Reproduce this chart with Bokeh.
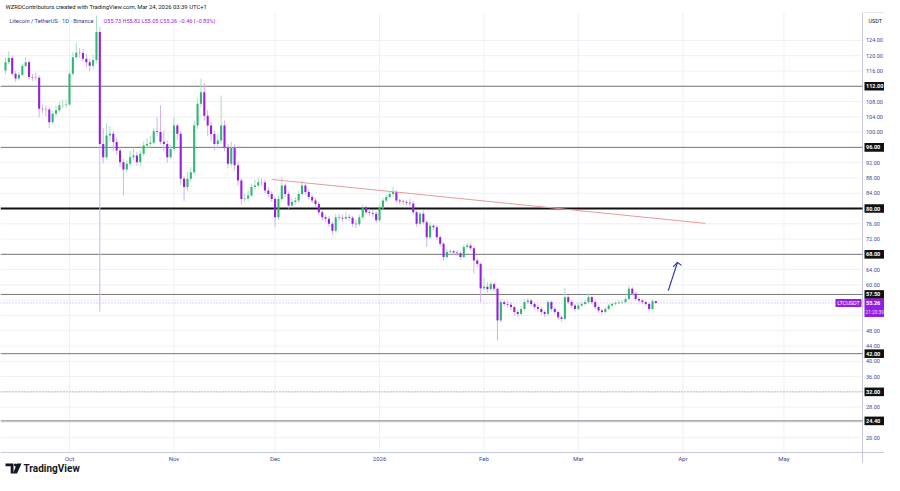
import numpy as np
import pandas as pd
from bokeh.plotting import figure
from bokeh.models import ColumnDataSource, Range1d, Label
from bokeh.embed import file_html
from bokeh.resources import INLINE
from bokeh.core.properties import value

# ---------------- data ----------------
start_date = "2025-09-12"
first_open = 116.1
closes = [
    118.3, 119.4, 115.3, 114.0, 115.0, 117.3, 118.3, 114.4, 114.3, 114.2,
    106.1, 106.0, 105.9, 102.6, 104.8, 105.7, 107.0, 107.1, 107.2, 115.3,
    119.6, 120.8, 120.7, 119.2, 118.3, 117.4, 118.9, 126.2, 96.9, 93.4,
    99.1, 99.6, 97.4, 95.2, 92.1, 90.2, 91.7, 93.4, 93.9, 92.1,
    94.3, 96.5, 96.9, 97.2, 100.2, 100.0, 97.5, 96.9, 93.4, 95.6,
    101.7, 99.6, 87.8, 85.6, 87.8, 89.5, 101.7, 107.4, 110.4, 104.3,
    101.7, 99.5, 96.9, 97.8, 101.7, 96.0, 91.7, 95.9, 91.3, 87.3,
    82.5, 82.6, 83.4, 85.6, 86.0, 86.9, 86.8, 84.7, 83.8, 82.5,
    77.7, 82.5, 86.0, 83.8, 80.8, 81.7, 82.1, 83.8, 86.0, 84.3,
    83.0, 82.1, 81.2, 79.0, 77.7, 77.3, 76.0, 74.2, 77.7, 77.6,
    77.4, 77.8, 77.6, 76.0, 75.9, 77.7, 80.3, 79.0, 78.8, 78.6,
    76.9, 80.3, 82.1, 83.0, 83.8, 84.3, 82.1, 81.8, 81.7, 81.5,
    81.3, 79.0, 76.0, 78.6, 76.4, 72.5, 75.5, 75.1, 72.5, 70.8,
    67.3, 68.6, 68.8, 68.5, 68.3, 67.3, 69.9, 70.3, 69.6, 66.4,
    65.5, 59.1, 59.5, 58.9, 60.2, 59.0, 50.7, 55.5, 55.0, 54.8,
    54.2, 52.9, 52.4, 53.7, 55.5, 55.9, 55.0, 54.2, 53.7, 52.9,
    52.4, 55.5, 53.7, 52.9, 51.5, 51.1, 56.8, 55.5, 54.6, 53.7,
    54.6, 55.0, 55.5, 56.8, 55.5, 54.2, 53.3, 52.9, 53.7, 54.6,
    55.0, 55.2, 55.4, 55.5, 56.3, 59.0, 57.7, 56.3, 55.9, 55.5,
    55.0, 53.7, 55.73, 55.26]
highs = [
    119.5, 121.2, 120.0, 116.0, 115.8, 118.0, 119.6, 119.0, 115.2, 115.6,
    114.8, 107.2, 107.0, 106.5, 105.6, 106.9, 108.0, 108.5, 108.6, 116.0,
    121.0, 123.5, 122.0, 121.8, 120.4, 119.2, 120.2, 130.5, 127.5, 101.0,
    102.3, 101.5, 100.4, 98.6, 96.3, 93.0, 92.6, 95.0, 96.0, 94.8,
    95.2, 97.5, 98.5, 99.0, 101.0, 104.0, 107.0, 100.4, 97.8, 96.7,
    103.8, 102.2, 100.2, 88.6, 89.5, 90.8, 103.0, 108.8, 114.0, 112.8,
    105.8, 102.8, 100.4, 99.5, 109.6, 103.0, 97.0, 97.5, 96.8, 92.5,
    88.0, 83.8, 84.6, 86.5, 87.6, 88.0, 87.9, 87.5, 85.5, 84.5,
    83.0, 83.4, 88.2, 86.6, 84.5, 82.5, 83.0, 84.6, 87.2, 86.6,
    85.0, 83.7, 82.8, 81.8, 79.6, 78.4, 78.0, 76.6, 78.6, 78.7,
    78.5, 79.2, 78.6, 78.0, 77.0, 78.4, 81.0, 80.8, 79.8, 79.6,
    79.2, 81.0, 82.8, 83.6, 84.6, 85.6, 84.8, 82.6, 82.4, 82.2,
    82.6, 81.8, 79.5, 79.2, 79.5, 76.9, 76.4, 76.0, 75.6, 73.0,
    71.2, 69.4, 69.3, 69.2, 69.0, 68.8, 70.5, 71.0, 70.8, 70.0,
    66.9, 65.8, 61.8, 60.6, 60.8, 60.6, 59.4, 56.3, 56.0, 55.8,
    55.5, 54.6, 53.4, 54.4, 56.2, 56.6, 56.4, 55.4, 54.8, 54.2,
    53.3, 56.0, 55.9, 54.2, 53.3, 52.0, 59.3, 57.3, 56.0, 55.0,
    55.2, 55.6, 56.1, 57.8, 57.2, 55.9, 54.6, 53.7, 54.2, 55.0,
    55.5, 55.7, 55.9, 56.0, 56.9, 59.8, 59.4, 58.2, 56.8, 56.4,
    55.9, 55.4, 56.2, 55.82]
lows = [
    115.2, 117.8, 114.8, 113.2, 113.5, 114.6, 116.9, 113.8, 113.4, 113.5,
    103.8, 104.9, 104.2, 101.0, 102.0, 104.0, 105.2, 106.3, 106.4, 106.9,
    114.8, 119.0, 119.5, 118.5, 117.0, 115.9, 116.5, 118.0, 53.0, 91.8,
    92.8, 97.6, 95.0, 94.0, 90.8, 83.4, 89.4, 91.0, 92.6, 91.2,
    91.0, 93.8, 95.8, 96.0, 96.8, 99.0, 96.8, 95.0, 92.0, 93.0,
    95.0, 98.0, 86.2, 82.0, 84.6, 87.0, 89.0, 100.8, 106.5, 103.0,
    99.0, 97.5, 95.2, 95.6, 97.0, 95.0, 90.5, 91.0, 90.0, 86.0,
    81.0, 81.6, 82.0, 83.0, 85.0, 85.6, 85.9, 84.0, 83.0, 81.8,
    75.1, 77.0, 82.0, 83.0, 80.0, 80.2, 81.0, 81.5, 83.4, 83.6,
    82.3, 81.4, 80.3, 78.2, 76.8, 76.4, 75.2, 73.2, 73.8, 76.8,
    76.6, 76.9, 76.8, 75.2, 74.9, 75.4, 77.2, 78.4, 78.0, 77.8,
    76.2, 76.5, 79.8, 81.6, 82.6, 83.2, 81.6, 81.0, 81.0, 80.8,
    80.6, 78.4, 75.2, 75.6, 75.8, 69.9, 72.0, 74.4, 71.8, 70.0,
    66.4, 66.8, 67.8, 67.8, 67.6, 66.6, 67.0, 69.5, 69.0, 63.0,
    64.6, 55.5, 58.5, 58.0, 58.4, 58.3, 45.4, 50.2, 54.4, 54.2,
    53.4, 52.0, 51.6, 52.0, 53.3, 55.0, 54.4, 53.6, 53.0, 52.2,
    51.6, 52.0, 53.0, 52.2, 50.8, 50.4, 50.8, 55.0, 54.0, 53.0,
    53.3, 54.2, 54.6, 55.1, 55.0, 53.6, 52.7, 52.2, 52.5, 53.3,
    54.3, 54.7, 54.9, 55.0, 55.2, 56.0, 57.2, 55.8, 55.4, 55.0,
    54.5, 53.1, 53.3, 55.05]

levels = [112.0, 96.0, 80.0, 68.0, 57.5, 42.0, 32.0, 24.4]
trend_dates = ["2025-11-30", "2026-04-07 16:00"]
trend_prices = [87.6, 76.1]
arrow_dates = ["2026-03-27 16:00", "2026-03-30 10:00"]
arrow_prices = [58.5, 65.9]
last_price = 55.26
countdown = "21:20:39"
symbol = "LTCUSDT"
month_starts = ["2025-10-01", "2025-11-01", "2025-12-01", "2026-01-01",
                "2026-02-01", "2026-03-01", "2026-04-01", "2026-05-01"]
month_labels = ["Oct", "Nov", "Dec", "2026", "Feb", "Mar", "Apr", "May"]
y_ticks = [20, 24, 28, 32, 36, 40, 44, 48, 52, 56, 60, 64, 68, 72, 76, 80,
           84, 88, 92, 96, 100, 104, 108, 112, 116, 120, 124]

# ---------------- derived ----------------
origin = pd.Timestamp("2025-10-01")
def dx(d):
    return (pd.Timestamp(d) - origin) / pd.Timedelta(days=1)

dates = pd.date_range(start_date, periods=len(closes), freq="D")
xs = [dx(d) for d in dates]
opens = [first_open] + closes[:-1]
up = [c >= o for o, c in zip(opens, closes)]
GREEN, PURPLE = "#2fb872", "#951fe0"
src = ColumnDataSource(dict(
    x=xs,
    top=[max(o, c) for o, c in zip(opens, closes)],
    bottom=[min(o, c) for o, c in zip(opens, closes)],
    high=highs, low=lows,
    color=[GREEN if u else PURPLE for u in up],
    wcolor=["#a8dec2" if u else "#d3b2f4" for u in up],
))

# ---------------- layout (pixel helpers for the page geometry) ----------------
W, H = 884, 475
PX_DAY = 3.37          # pixels per day
OCT1_PX = 69           # pixel of 2025-10-01
PX_UNIT = 3.82         # pixels per USDT
P80_PX = 208           # pixel row of price 80
AXIS_PX = 862          # price axis line
TOP_PX, BOT_PX = 12, 452

def X(px):
    return (px - OCT1_PX) / PX_DAY
def Y(py):
    return 80 + (P80_PX - py) / PX_UNIT

p = figure(width=W, height=H, x_range=Range1d(X(0), X(W)), y_range=Range1d(Y(H), Y(0)),
           output_backend="svg", toolbar_location=None,
           x_axis_location=None, y_axis_location=None, min_border=0)
p.outline_line_color = None
p.background_fill_color = "white"
p.border_fill_color = "white"
p.grid.visible = False

AX_COL = "#c6cadf"
GRID_COL = "#eef0f7"
TICK_COL = "#3c46a2"
FONT = "Roboto"
xa = X(AXIS_PX)

# grid
month_x = [dx(m) for m in month_starts]
p.segment(x0=month_x, y0=Y(TOP_PX), x1=month_x, y1=Y(BOT_PX), line_color=GRID_COL, line_width=1)
p.segment(x0=X(0), y0=y_ticks, x1=xa, y1=y_ticks, line_color=GRID_COL, line_width=1)

# axes lines
p.segment(x0=[X(0)], y0=[Y(BOT_PX)], x1=[X(W)], y1=[Y(BOT_PX)], line_color=AX_COL, line_width=1)
p.segment(x0=[xa], y0=[Y(TOP_PX)], x1=[xa], y1=[Y(462)], line_color=AX_COL, line_width=1)
p.segment(x0=[xa], y0=[Y(TOP_PX)], x1=[X(W)], y1=[Y(TOP_PX)], line_color="#e6e8f0", line_width=1)

# tick labels (price axis, time axis)
p.text(x=[X(865.5)] * len(y_ticks), y=y_ticks, text=[f"{t:.2f}" for t in y_ticks],
       text_font=value(FONT), text_font_size="5.5px", text_color=TICK_COL,
       text_align="left", text_baseline="middle")
p.text(x=month_x, y=[Y(458)] * len(month_x), text=month_labels,
       text_font=value(FONT), text_font_size="6px", text_color=TICK_COL,
       text_align="center", text_baseline="middle")

# level lines
for lvl in levels:
    if lvl == 80.0:
        col, lw, dash = "#111111", 2, "solid"
    elif lvl == 32.0:
        col, lw, dash = "#8a8a8a", 1, "1 2"
    else:
        col, lw, dash = "#777777", 1, "solid"
    p.line([X(0), xa], [lvl, lvl], line_color=col, line_width=lw, line_dash=dash)

# last price dotted line
p.line([X(0), xa], [last_price, last_price], line_color="#c490f2", line_width=1, line_dash="1 2")

# candles
p.segment(x0="x", y0="low", x1="x", y1="high", line_color="wcolor", line_width=1, source=src)
p.vbar(x="x", width=0.62, top="top", bottom="bottom", fill_color="color",
       line_color=None, source=src)

# trend line
p.line([dx(d) for d in trend_dates], trend_prices, line_color="#e59c9c", line_width=1)

# arrow (shaft + open head)
ax = [dx(d) for d in arrow_dates]
p.line(ax, arrow_prices, line_color="#2a36a8", line_width=1.2)
hx, hy = ax[1], arrow_prices[1]
p.line([hx - 4.4 / PX_DAY, hx, hx + 4.0 / PX_DAY],
       [hy - 4.5 / PX_UNIT, hy, hy - 3.0 / PX_UNIT],
       line_color="#2a36a8", line_width=1.2)

# level boxes on the price axis
BOX_H = 4.3 / PX_UNIT
p.quad(left=X(864), right=X(W), top=[l + BOX_H for l in levels], bottom=[l - BOX_H for l in levels],
       fill_color="#111111", line_color=None)
p.text(x=[X(865.5)] * len(levels), y=levels, text=[f"{l:.2f}" for l in levels],
       text_font=value(FONT), text_font_size="5.5px", text_color="white", text_font_style="bold",
       text_align="left", text_baseline="middle")

# last price boxes
p.quad(left=X(835), right=X(861), top=last_price + 4 / PX_UNIT, bottom=last_price - 4 / PX_UNIT,
       fill_color=PURPLE, line_color=None)
p.text(x=[X(848)], y=[last_price], text=[symbol], text_font=value(FONT), text_font_size="5.5px",
       text_color="white", text_align="center", text_baseline="middle")
p.quad(left=X(864), right=X(W), top=last_price + 4.5 / PX_UNIT, bottom=last_price - 14 / PX_UNIT,
       fill_color=PURPLE, line_color=None)
p.text(x=[X(865.5)], y=[last_price], text=[f"{last_price:.2f}"], text_font=value(FONT),
       text_font_size="5.5px", text_color="white", text_font_style="bold",
       text_align="left", text_baseline="middle")
p.text(x=[X(865)], y=[last_price - 9 / PX_UNIT], text=[countdown], text_font=value(FONT),
       text_font_size="4.8px", text_color="#f3dcff", text_align="left", text_baseline="middle")

# header and legend texts
p.add_layout(Label(x=X(5), y=Y(6), text="WZRDContributors created with TradingView.com, Mar 24, 2026 03:39 UTC+1",
                   text_font=FONT, text_font_size="5.9px", text_color="#131722",
                   text_align="left", text_baseline="middle"))
p.add_layout(Label(x=X(9), y=Y(20), text="Litecoin / TetherUS · 1D · Binance",
                   text_font=FONT, text_font_size="5.7px", text_color="#2f3aa0",
                   text_align="left", text_baseline="middle"))
p.add_layout(Label(x=X(103), y=Y(20), text="O55.73  H55.82  L55.05  C55.26  −0.46 (−0.83%)",
                   text_font=FONT, text_font_size="5.5px", text_color="#9a22d8",
                   text_align="left", text_baseline="middle"))
p.add_layout(Label(x=X(868), y=Y(20), text="USDT", text_font=FONT,
                   text_font_size="5.5px", text_color="#131722",
                   text_align="left", text_baseline="middle"))

# TradingView logo
LY = 468
p.patch([X(5), X(13), X(13), X(10.2), X(10.2), X(5)],
        [Y(LY - 5), Y(LY - 5), Y(LY + 5), Y(LY + 5), Y(LY - 2.2), Y(LY - 2.2)],
        fill_color="#131722", line_color=None)
p.patch([X(16.5), X(21), X(16.5), X(12.5)],
        [Y(LY - 5), Y(LY - 5), Y(LY + 5), Y(LY + 5)],
        fill_color="#131722", line_color=None)
p.scatter([X(15)], [Y(LY - 3.5)], size=3, fill_color="#131722", line_color=None)
p.add_layout(Label(x=X(23), y=Y(LY), text="TradingView", text_font=FONT,
                   text_font_size="10px", text_font_style="bold", text_color="#131722",
                   text_align="left", text_baseline="middle"))

open("out.html", "w").write(file_html(p, INLINE))
